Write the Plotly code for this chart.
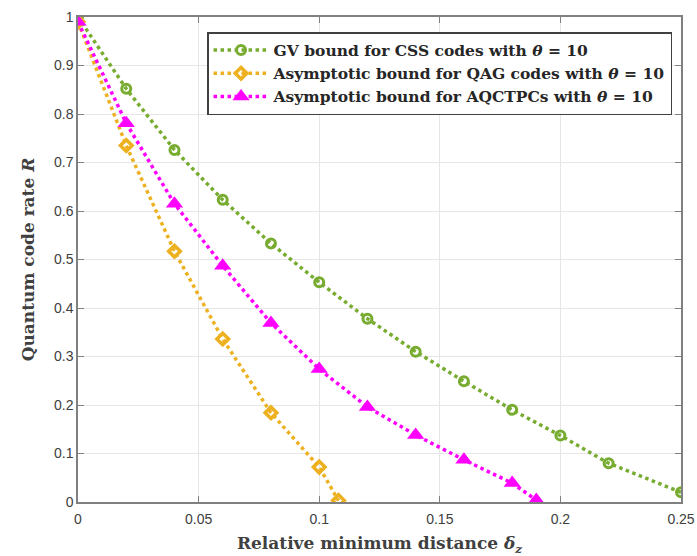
import plotly.graph_objects as go

gv_x = [0, 0.02, 0.04, 0.06, 0.08, 0.10, 0.12, 0.14, 0.16, 0.18, 0.20, 0.22, 0.25]
gv_y = [1.0, 0.852, 0.726, 0.623, 0.533, 0.453, 0.378, 0.310, 0.249, 0.190, 0.137, 0.080, 0.020]

qag_x = [0, 0.02, 0.04, 0.06, 0.08, 0.10, 0.108]
qag_y = [0.99, 0.735, 0.517, 0.336, 0.184, 0.072, 0.003]

aq_x = [0, 0.02, 0.04, 0.06, 0.08, 0.10, 0.12, 0.14, 0.16, 0.18, 0.19]
aq_y = [0.99, 0.781, 0.615, 0.487, 0.369, 0.274, 0.196, 0.138, 0.087, 0.039, 0.004]

x_ticks = [0, 0.05, 0.1, 0.15, 0.2, 0.25]
x_tick_labels = ["0", "0.05", "0.1", "0.15", "0.2", "0.25"]
y_ticks = [0, 0.1, 0.2, 0.3, 0.4, 0.5, 0.6, 0.7, 0.8, 0.9, 1.0]
y_tick_labels = ["0", "0.1", "0.2", "0.3", "0.4", "0.5", "0.6", "0.7", "0.8", "0.9", "1"]

names = [
    "<b>GV bound for CSS codes with <i>θ</i> = 10</b>",
    "<b>Asymptotic bound for QAG codes with <i>θ</i> = 10</b>",
    "<b>Asymptotic bound for AQCTPCs with <i>θ</i> = 10</b>",
]

GREEN = "#77AC30"
ORANGE = "#EDB120"
MAGENTA = "#FF00FF"

fig = go.Figure()
fig.add_trace(go.Scatter(
    x=gv_x, y=gv_y, mode="lines+markers", name=names[0],
    line=dict(color=GREEN, width=3.5, dash="dot"),
    marker=dict(symbol="circle-open", size=9, color=GREEN, line=dict(width=3, color=GREEN)),
))
fig.add_trace(go.Scatter(
    x=qag_x, y=qag_y, mode="lines+markers", name=names[1],
    line=dict(color=ORANGE, width=3.5, dash="dot"),
    marker=dict(symbol="diamond-open", size=9, color=ORANGE, line=dict(width=3.5, color=ORANGE)),
))
fig.add_trace(go.Scatter(
    x=aq_x, y=aq_y, mode="lines+markers", name=names[2],
    line=dict(color=MAGENTA, width=3.5, dash="dot"),
    marker=dict(symbol="triangle-up", size=15, color=MAGENTA, line=dict(width=0)),
))

axis_common = dict(
    showgrid=True, gridcolor="#e6e6e6", gridwidth=1,
    showline=True, linecolor="#808080", linewidth=1.5, mirror="ticks",
    ticks="inside", ticklen=6, tickcolor="#808080", tickwidth=1,
    zeroline=False, automargin=False,
    tickfont=dict(family="Liberation Sans, Arial, sans-serif", size=14, color="#404040"),
)

title_font = dict(family="DejaVu Serif, Liberation Serif, serif", size=17, color="#404040")

fig.update_layout(
    width=697, height=556,
    margin=dict(l=78, r=16, t=17, b=54),
    plot_bgcolor="white", paper_bgcolor="white",
    xaxis=dict(
        range=[0, 0.25], tickvals=x_ticks, ticktext=x_tick_labels,
        ticklabelstandoff=3,
        title=dict(text="<b>Relative minimum distance <i>δ<sub>z</sub></i></b>",
                   font=title_font, standoff=12),
        **axis_common,
    ),
    yaxis=dict(
        range=[0, 1], tickvals=y_ticks, ticktext=y_tick_labels,
        title=dict(text="<b>Quantum code rate <i>R</i></b>",
                   font=title_font, standoff=15),
        **axis_common,
    ),
    legend=dict(
        x=0.214, y=0.969, xanchor="left", yanchor="top",
        bgcolor="white", bordercolor="#404040", borderwidth=1.5,
        font=dict(family="DejaVu Serif, Liberation Serif, serif", size=15.5, color="#262626"),
        itemwidth=55, tracegroupgap=0,
    ),
    showlegend=True,
)

fig.write_html("out.html")
